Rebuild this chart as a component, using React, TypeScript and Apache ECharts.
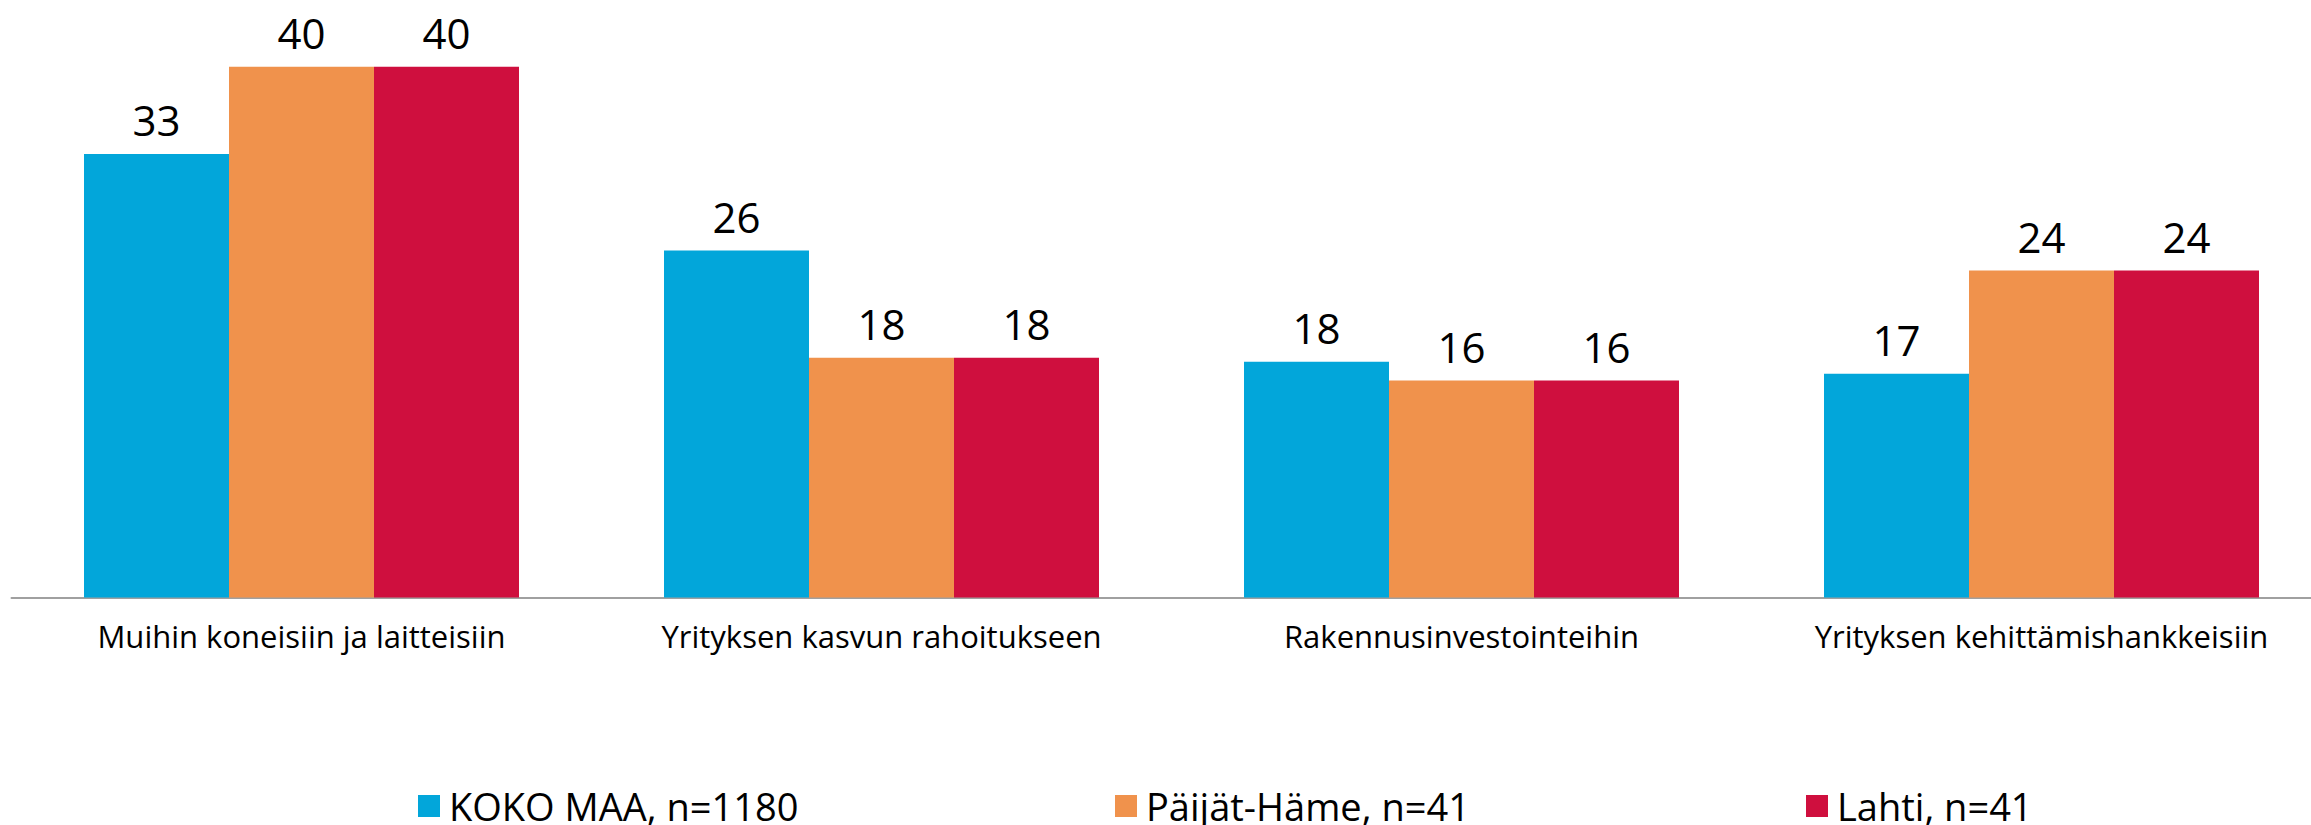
import React, { useEffect, useRef } from "react";
import * as echarts from "echarts";

const categories = [
  "Muihin koneisiin ja laitteisiin",
  "Yrityksen kasvun rahoitukseen",
  "Rakennusinvestointeihin",
  "Yrityksen kehittämishankkeisiin",
];
const seriesNames = ["KOKO MAA, n=1180", "Päijät-Häme, n=41", "Lahti, n=41"];
const kokoMaa = [33.1, 25.9, 17.6, 16.7];
const paijatHame = [39.6, 17.9, 16.2, 24.4];
const lahti = [39.6, 17.9, 16.2, 24.4];
const colors = ["#02a6da", "#f0924c", "#cf0f3e"];
const legendLefts = [413, 1110, 1801];

const FONT = "'Open Sans', sans-serif";

export default function App() {
  const ref = useRef<HTMLDivElement>(null);
  useEffect(() => {
    if (!ref.current) return;
    const chart = echarts.init(ref.current, undefined, { renderer: "svg" });
    const values = [kokoMaa, paijatHame, lahti];
    chart.setOption({
      animation: false,
      backgroundColor: "#ffffff",
      textStyle: { fontFamily: FONT },
      legend: seriesNames.map((n, i) => ({
        data: [n],
        left: legendLefts[i],
        top: 782,
        itemWidth: 22,
        itemHeight: 22,
        icon: "rect",
        textStyle: {
          fontFamily: FONT,
          fontSize: 38,
          color: "#000",
          padding: [0, 0, 0, 4],
        },
      })),
      grid: { left: 11.5, top: 61.5, width: 2320, height: 536 },
      xAxis: {
        type: "category",
        data: categories,
        axisTick: { show: false },
        axisLine: { lineStyle: { color: "#a0a0a0", width: 2 } },
        axisLabel: {
          fontFamily: FONT,
          fontSize: 31,
          color: "#000",
          margin: 23,
          interval: 0,
        },
      },
      yAxis: {
        type: "value",
        min: 0,
        max: 40,
        show: false,
        splitLine: { show: false },
      },
      series: seriesNames.map((n, i) => ({
        name: n,
        type: "bar",
        data: values[i],
        barGap: "0%",
        barCategoryGap: "25%",
        itemStyle: { color: colors[i] },
        label: {
          show: true,
          position: "top",
          distance: 13,
          fontFamily: FONT,
          fontSize: 42,
          color: "#000",
          formatter: (p: any) => String(Math.round(p.value)),
        },
      })),
    });
    return () => chart.dispose();
  }, []);
  return (
    <div
      style={{
        position: "absolute",
        left: 0,
        top: 0,
        width: 2311,
        height: 825,
        overflow: "hidden",
        background: "#fff",
      }}
    >
      <div ref={ref} style={{ width: 2340, height: 825 }} />
    </div>
  );
}
